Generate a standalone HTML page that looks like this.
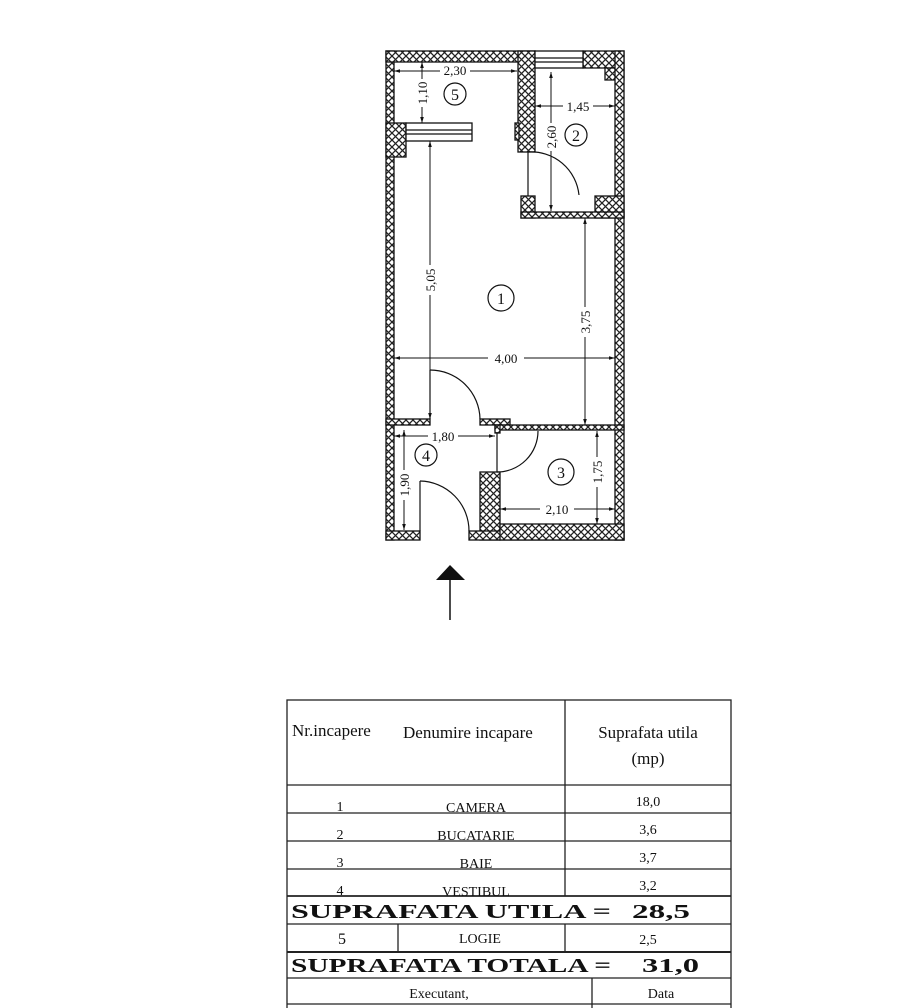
<!DOCTYPE html>
<html><head><meta charset="utf-8"><style>
html,body{margin:0;padding:0;background:#fff;}
svg{display:block;}
text{font-family:"Liberation Serif",serif;fill:#111;}
</style></head><body>
<svg width="902" height="1008" viewBox="0 0 902 1008" xmlns="http://www.w3.org/2000/svg">
<defs>
<pattern id="h" width="7" height="7" patternUnits="userSpaceOnUse">
<rect width="7" height="7" fill="#fff"/>
<path d="M0 0L7 7M7 0L0 7" stroke="#222" stroke-width="1.3"/>
</pattern>
<marker id="a" viewBox="0 0 10 10" refX="10" refY="5" markerWidth="6" markerHeight="6" orient="auto-start-reverse"><path d="M0 2L10 5L0 8z" fill="#111"/></marker>
</defs>
<g stroke="#111" stroke-width="1.3" fill="url(#h)">
<!-- outer left wall -->
<rect x="386" y="51" width="8" height="489"/>
<!-- top wall -->
<rect x="386" y="51" width="149" height="11"/>
<rect x="583" y="51" width="41" height="17"/>
<polygon points="605,68 624,68 624,80 605,80" />
<!-- right wall -->
<rect x="615" y="51" width="9" height="489"/>
<!-- partition 5/1 - 2 -->
<rect x="518" y="51" width="17" height="101"/>
<rect x="515" y="123" width="4" height="17"/>
<!-- logia bottom left -->
<rect x="386" y="123" width="20" height="34"/>
<!-- kitchen bottom -->
<rect x="521" y="196" width="14" height="22"/>
<rect x="595" y="196" width="29" height="22"/>
<rect x="521" y="212" width="103" height="6"/>
<!-- wall 1/4 -->
<rect x="386" y="419" width="44" height="6"/>
<rect x="480" y="419" width="30" height="6"/>
<rect x="495" y="425" width="129" height="5"/>
<rect x="495" y="425" width="5" height="8"/>
<!-- partition 4/3 -->
<rect x="480" y="472" width="20" height="68"/>
<!-- bottom -->
<rect x="386" y="531" width="34" height="9"/>
<rect x="469" y="531" width="155" height="9"/>
<rect x="500" y="524" width="124" height="16"/>
</g>
<g stroke="#111" stroke-width="1.3" fill="#fff">
<!-- windows -->
<rect x="535" y="51" width="48" height="17"/>
<line x1="535" y1="58" x2="583" y2="58"/>
<line x1="535" y1="62" x2="583" y2="62"/>
<rect x="406" y="123" width="66" height="18"/>
<line x1="406" y1="130" x2="472" y2="130"/>
<line x1="406" y1="134" x2="472" y2="134"/>
</g>
<g stroke="#111" stroke-width="1.2" fill="none">
<!-- doors -->
<line x1="528" y1="152" x2="528" y2="196"/>
<path d="M528 152 A48 48 0 0 1 579 195"/>
<line x1="430" y1="370" x2="430" y2="419"/>
<path d="M430 370 A50 50 0 0 1 480 419"/>
<line x1="497" y1="432" x2="497" y2="472"/>
<path d="M538 431 A41 41 0 0 1 497 472"/>
<line x1="420" y1="481" x2="420" y2="531"/>
<path d="M420 481 A50 50 0 0 1 469 531"/>
</g>
<!-- dimension lines -->
<g stroke="#111" stroke-width="1" fill="none" marker-start="url(#a)" marker-end="url(#a)">
<line x1="394" y1="71" x2="517" y2="71"/>
<line x1="422" y1="62" x2="422" y2="123"/>
<line x1="535" y1="106" x2="615" y2="106"/>
<line x1="551" y1="72" x2="551" y2="211"/>
<line x1="430" y1="141" x2="430" y2="419"/>
<line x1="585" y1="218" x2="585" y2="425"/>
<line x1="394" y1="358" x2="615" y2="358"/>
<line x1="394" y1="436" x2="495" y2="436"/>
<line x1="404" y1="430" x2="404" y2="530"/>
<line x1="597" y1="431" x2="597" y2="524"/>
<line x1="500" y1="509" x2="615" y2="509"/>
</g>
<g font-size="13" text-anchor="middle">
<rect x="440" y="64" width="30" height="12" fill="#fff"/><text x="455" y="75">2,30</text>
<rect x="563" y="99" width="30" height="13" fill="#fff"/><text x="578" y="111">1,45</text>
<rect x="488" y="351" width="36" height="13" fill="#fff"/><text x="506" y="363">4,00</text>
<rect x="428" y="429" width="30" height="13" fill="#fff"/><text x="443" y="441">1,80</text>
<rect x="540" y="502" width="34" height="13" fill="#fff"/><text x="557" y="514">2,10</text>
<g transform="translate(422,93) rotate(-90)"><rect x="-14" y="-7" width="28" height="14" fill="#fff"/><text x="0" y="5">1,10</text></g>
<g transform="translate(551,137) rotate(-90)"><rect x="-14" y="-7" width="28" height="14" fill="#fff"/><text x="0" y="5">2,60</text></g>
<g transform="translate(430,280) rotate(-90)"><rect x="-15" y="-7" width="30" height="14" fill="#fff"/><text x="0" y="5">5,05</text></g>
<g transform="translate(585,322) rotate(-90)"><rect x="-15" y="-7" width="30" height="14" fill="#fff"/><text x="0" y="5">3,75</text></g>
<g transform="translate(404,485) rotate(-90)"><rect x="-15" y="-7" width="30" height="14" fill="#fff"/><text x="0" y="5">1,90</text></g>
<g transform="translate(597,472) rotate(-90)"><rect x="-15" y="-7" width="30" height="14" fill="#fff"/><text x="0" y="5">1,75</text></g>
</g>
<g stroke="#111" stroke-width="1.2" fill="#fff">
<circle cx="455" cy="94" r="11"/><circle cx="576" cy="135" r="11"/>
<circle cx="501" cy="298" r="13"/><circle cx="426" cy="455" r="11"/>
<circle cx="561" cy="472" r="13"/>
</g>
<g font-size="16" text-anchor="middle">
<text x="455" y="100">5</text><text x="576" y="141">2</text>
<text x="501" y="304">1</text><text x="426" y="461">4</text>
<text x="561" y="478">3</text>
</g>
<!-- north arrow -->
<polygon points="450,565 436,580 465,580" fill="#111"/>
<line x1="450" y1="578" x2="450" y2="620" stroke="#111" stroke-width="1.5"/>
<!-- table -->
<g stroke="#222" stroke-width="1.3" fill="none">
<rect x="287" y="700" width="444" height="310"/>
<line x1="565" y1="700" x2="565" y2="896"/>
<line x1="287" y1="785" x2="731" y2="785"/>
<line x1="287" y1="813" x2="731" y2="813"/>
<line x1="287" y1="841" x2="731" y2="841"/>
<line x1="287" y1="869" x2="731" y2="869"/>
<line x1="287" y1="896" x2="731" y2="896" stroke-width="1.8"/>
<line x1="287" y1="924" x2="731" y2="924"/>
<line x1="398" y1="924" x2="398" y2="952"/>
<line x1="565" y1="924" x2="565" y2="952"/>
<line x1="287" y1="952" x2="731" y2="952" stroke-width="2"/>
<line x1="287" y1="978" x2="731" y2="978"/>
<line x1="592" y1="978" x2="592" y2="1008"/>
<line x1="287" y1="1004" x2="731" y2="1004"/>
</g>
<g font-size="17">
<text x="292" y="736">Nr.incapere</text>
<text x="403" y="738">Denumire incapare</text>
<text x="648" y="738" text-anchor="middle">Suprafata utila</text>
<text x="648" y="764" text-anchor="middle">(mp)</text>
</g>
<g font-size="14" text-anchor="middle">
<text x="340" y="811">1</text><text x="476" y="812">CAMERA</text><text x="648" y="806">18,0</text>
<text x="340" y="839">2</text><text x="476" y="840">BUCATARIE</text><text x="648" y="834">3,6</text>
<text x="340" y="867">3</text><text x="476" y="868">BAIE</text><text x="648" y="862">3,7</text>
<text x="340" y="895">4</text><text x="476" y="896">VESTIBUL</text><text x="648" y="890">3,2</text>
<text x="342" y="944" font-size="16">5</text><text x="480" y="943">LOGIE</text><text x="648" y="944">2,5</text>
<text x="439" y="998">Executant,</text><text x="661" y="998">Data</text>
</g>
<g font-size="20" font-weight="bold">
<text x="291" y="918" textLength="320" lengthAdjust="spacingAndGlyphs">SUPRAFATA UTILA =</text>
<text x="632" y="918" textLength="58" lengthAdjust="spacingAndGlyphs">28,5</text>
<text x="291" y="972" textLength="320" lengthAdjust="spacingAndGlyphs">SUPRAFATA TOTALA =</text>
<text x="642" y="972" textLength="57" lengthAdjust="spacingAndGlyphs">31,0</text>
</g>
</svg>
</body></html>
